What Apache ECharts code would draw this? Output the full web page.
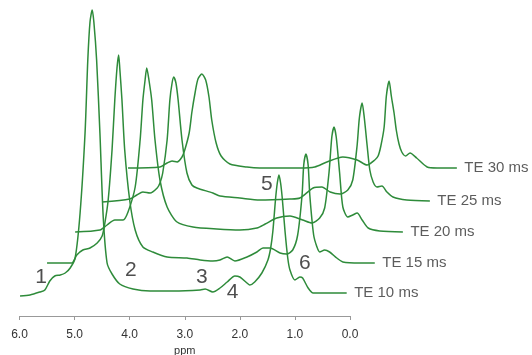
<!DOCTYPE html>
<html>
<head>
<meta charset="utf-8">
<script src="https://cdn.jsdelivr.net/npm/echarts@6/dist/echarts.min.js"></script>
<style>
html,body{margin:0;padding:0;background:#fff;}
#chart{width:532px;height:355px;}
</style>
</head>
<body>
<div id="chart"></div>
<script>
// Spectra: [chemical shift (ppm), intensity above own baseline]
const spectrumTE10 = [[5.99,-3],[5.81,-2],[5.63,1],[5.54,3],[5.45,12],[5.36,17],[5.26,18],[5.17,20],[5.08,25],[4.99,35],[4.90,80],[4.81,160],[4.76,233],[4.72,271],[4.68,283],[4.65,271],[4.60,233],[4.54,160],[4.48,76],[4.41,30],[4.32,19],[4.18,9],[3.94,4],[3.63,2],[3.21,2],[2.72,3],[2.63,4],[2.49,1],[2.36,5],[2.23,11],[2.09,17],[2.00,16],[1.87,10],[1.82,8],[1.73,11],[1.60,20],[1.49,33],[1.44,45],[1.40,62],[1.35,95],[1.32,110],[1.29,118],[1.26,110],[1.23,95],[1.18,62],[1.13,35],[1.09,23],[1.00,13],[0.91,16],[0.86,15],[0.76,5],[0.67,0],[0.42,0],[0.06,0]];
const spectrumTE15 = [[6.00,0],[5.76,0],[5.55,0],[5.46,8],[5.35,13],[5.22,15],[5.09,20],[5.00,27],[4.95,40],[4.89,63],[4.82,113],[4.77,163],[4.73,195],[4.70,208],[4.68,195],[4.64,163],[4.59,113],[4.50,63],[4.40,33],[4.26,16],[4.08,11],[3.82,6],[3.46,5],[3.22,3],[2.99,2],[2.86,3],[2.73,6],[2.59,2],[2.37,6],[2.19,11],[2.08,15],[1.95,15],[1.77,10],[1.65,9],[1.54,13],[1.45,28],[1.37,68],[1.34,98],[1.30,109],[1.26,98],[1.23,68],[1.16,28],[1.10,16],[1.05,11],[0.96,13],[0.87,11],[0.74,5],[0.63,1],[0.32,0],[0.05,0]];
const spectrumTE20 = [[5.99,0],[5.54,2],[5.41,7],[5.27,12],[5.12,12],[5.03,20],[4.90,45],[4.81,92],[4.76,132],[4.72,152],[4.69,164],[4.65,152],[4.60,132],[4.54,92],[4.45,52],[4.32,25],[4.14,10],[3.85,5],[3.42,3],[3.00,2],[2.69,4],[2.54,8],[2.33,14],[2.09,16],[1.86,12],[1.69,9],[1.55,14],[1.46,24],[1.38,60],[1.33,95],[1.29,105],[1.25,95],[1.19,60],[1.13,25],[1.04,15],[0.95,17],[0.87,19],[0.78,12],[0.67,4],[0.46,1],[0.04,0]];
const spectrumTE25 = [[6.00,-2],[5.50,1],[5.37,5],[5.26,8],[5.13,7],[5.00,12],[4.95,17],[4.90,27],[4.82,60],[4.77,100],[4.73,117],[4.70,123],[4.66,117],[4.62,100],[4.55,60],[4.46,27],[4.37,15],[4.28,12],[3.99,7],[3.86,4],[3.50,2],[3.14,0],[2.59,1],[2.41,2],[2.17,12],[2.01,13],[1.86,8],[1.68,6],[1.54,10],[1.45,20],[1.37,55],[1.33,82],[1.28,97],[1.24,82],[1.19,55],[1.14,30],[1.08,18],[1.01,13],[0.92,14],[0.83,8],[0.72,3],[0.47,0],[0.05,-1]];
const spectrumTE30 = [[6.03,0],[5.45,1],[5.32,5],[5.23,7],[5.14,6],[5.05,11],[5.00,18],[4.92,35],[4.87,56],[4.81,76],[4.76,89],[4.69,94],[4.62,88],[4.56,71],[4.51,48],[4.43,25],[4.34,12],[4.18,4],[3.87,1],[3.64,0],[2.91,0],[2.64,1],[2.42,6],[2.13,11],[1.87,8],[1.69,3],[1.55,8],[1.49,12],[1.44,22],[1.38,41],[1.34,72],[1.29,87],[1.25,72],[1.20,55],[1.16,38],[1.11,24],[1.06,16],[0.99,12],[0.91,15],[0.79,10],[0.60,1],[0.42,0],[0.06,0]];

const traceNames = ['TE 10 ms','TE 15 ms','TE 20 ms','TE 25 ms','TE 30 ms'];
const traceShiftPpm = [0, 0.5, 1.0, 1.5, 2.0];
const traceShiftY = [23, 53, 84, 116, 148];

const peakLabels = ['1','2','3','4','5','6'];
const peakLabelPpm = [5.61, 3.98, 2.69, 2.13, 1.51, 0.82];
const peakLabelY = [39, 46, 39, 24, 132, 53];

const axisMin = 0, axisMax = 6, axisStep = 1;

const spectra = [spectrumTE10, spectrumTE15, spectrumTE20, spectrumTE25, spectrumTE30];
const FONT = "'Liberation Sans', Arial, Helvetica, sans-serif";
const GREEN = '#2e8b3a';

// layout: visible axis 6.0 -> 0.0; data grid extends further right with the same scale
const LEFT = 19.5, PLOT_W = 330.5, TOP = 6, BOTTOM = 39, YMAX = 310;
const dataMin = -3;
const pxPerPpm = PLOT_W / (axisMax - axisMin);
const dataW = pxPerPpm * (axisMax - dataMin);

const shifted = spectra.map((spec, i) => spec.map(p => [p[0] - traceShiftPpm[i], p[1] + traceShiftY[i]]));

const lineSeries = shifted.map((data, i) => ({
  name: traceNames[i],
  type: 'line',
  xAxisIndex: 1,
  yAxisIndex: 1,
  data: data,
  showSymbol: false,
  symbol: 'none',
  smooth: 0.25,
  clip: false,
  silent: true,
  lineStyle: { color: GREEN, width: 1.5 },
  z: 2
}));

const endLabelSeries = {
  type: 'scatter',
  xAxisIndex: 1,
  yAxisIndex: 1,
  clip: false,
  silent: true,
  symbolSize: 1,
  itemStyle: { color: 'rgba(0,0,0,0)' },
  data: shifted.map((data, i) => ({ name: traceNames[i], value: data[data.length - 1] })),
  label: {
    show: true,
    position: 'right',
    distance: 7,
    formatter: p => p.name,
    color: '#333',
    fontSize: 15,
    fontFamily: FONT
  },
  z: 3
};

const labelSeries = {
  type: 'scatter',
  xAxisIndex: 1,
  yAxisIndex: 1,
  clip: false,
  silent: true,
  symbolSize: 1,
  itemStyle: { color: 'rgba(0,0,0,0)' },
  data: peakLabels.map((t, i) => ({ name: t, value: [peakLabelPpm[i], peakLabelY[i]] })),
  label: {
    show: true,
    position: 'inside',
    formatter: p => p.name,
    color: '#222',
    fontSize: 21,
    fontFamily: FONT
  },
  z: 3
};

const chart = echarts.init(document.getElementById('chart'), null, { renderer: 'canvas' });
chart.setOption({
  animation: false,
  backgroundColor: '#fff',
  grid: [
    { left: LEFT, width: PLOT_W, top: TOP, bottom: BOTTOM, containLabel: false, outerBoundsMode: 'none' },
    { left: LEFT, width: dataW, top: TOP, bottom: BOTTOM, containLabel: false, outerBoundsMode: 'none' }
  ],
  xAxis: [{
    gridIndex: 0,
    type: 'value',
    min: axisMin,
    max: axisMax,
    interval: axisStep,
    inverse: true,
    splitLine: { show: false },
    axisLine: { show: true, lineStyle: { color: '#999', width: 1 } },
    axisTick: { show: true, length: 4, lineStyle: { color: '#999' } },
    axisLabel: { formatter: v => v.toFixed(1), color: '#333', fontSize: 12, fontFamily: FONT, margin: 13 },
    name: 'ppm',
    nameLocation: 'middle',
    nameGap: 22,
    nameTextStyle: { color: '#333', fontSize: 11, fontFamily: FONT }
  }, {
    gridIndex: 1,
    type: 'value',
    min: dataMin,
    max: axisMax,
    inverse: true,
    show: false
  }],
  yAxis: [
    { gridIndex: 0, type: 'value', min: 0, max: YMAX, show: false },
    { gridIndex: 1, type: 'value', min: 0, max: YMAX, show: false }
  ],
  series: [...lineSeries, endLabelSeries, labelSeries]
});
</script>
</body>
</html>
